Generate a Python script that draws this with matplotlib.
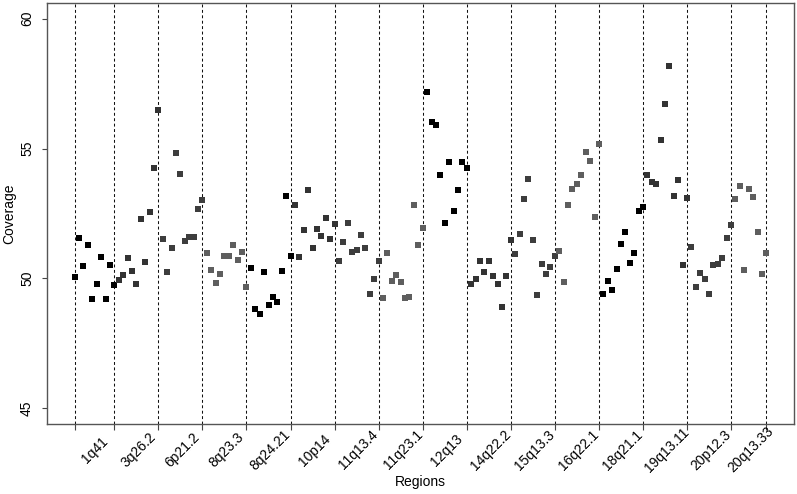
import matplotlib
matplotlib.use("Agg")
import matplotlib.pyplot as plt
import matplotlib.transforms as mtransforms
import numpy as np

plt.rcParams['font.family'] = ['Liberation Sans', 'DejaVu Sans']

regions = ["1q41", "3q26.2", "6p21.2", "8q23.3", "8q24.21", "10p14", "11q13.4",
           "11q23.1", "12q13", "14q22.2", "15q13.3", "16q22.1", "18q21.1",
           "19q13.11", "20p12.3", "20q13.33"]
region_sizes = [10, 10, 10, 10, 10, 10, 10, 10, 10, 10, 10, 10, 10, 10, 10, 8]
region_colors = ["#000000", "#333333", "#3d3d3d", "#5e5e5e",
                 "#000000", "#333333", "#3d3d3d", "#5e5e5e",
                 "#000000", "#333333", "#3d3d3d", "#5e5e5e",
                 "#000000", "#333333", "#3d3d3d", "#5e5e5e"]

coverage = [
    # 1q41
    50.05, 51.54, 50.48, 51.29, 49.22, 49.78, 50.83, 49.22, 50.52, 49.74,
    # 3q26.2
    49.95, 50.15, 50.77, 50.30, 49.77, 52.30, 50.65, 52.54, 54.24, 56.50,
    # 6p21.2
    51.52, 50.25, 51.17, 54.84, 54.02, 51.44, 51.59, 51.59, 52.69, 53.02,
    # 8q23.3
    50.97, 50.34, 49.83, 50.16, 50.85, 50.85, 51.30, 50.70, 51.02, 49.69,
    # 8q24.21
    50.42, 48.83, 48.64, 50.26, 48.99, 49.29, 49.08, 50.29, 53.17, 50.88,
    # 10p14
    52.83, 50.83, 51.87, 53.40, 51.17, 51.91, 51.62, 52.32, 51.53, 52.09,
    # 11q13.4
    50.69, 51.40, 52.15, 51.03, 51.11, 51.66, 51.16, 49.42, 49.98, 50.67,
    # 11q23.1
    49.23, 50.98, 49.91, 50.15, 49.85, 49.26, 49.29, 52.81, 51.29, 51.94,
    # 12q13
    57.19, 56.01, 55.91, 53.98, 52.15, 54.49, 52.60, 53.41, 54.47, 54.26,
    # 14q22.2
    49.77, 49.97, 50.67, 50.24, 50.67, 50.08, 49.77, 48.92, 50.08, 51.49,
    # 15q13.3
    50.94, 51.72, 53.05, 53.82, 51.49, 49.36, 50.57, 50.18, 50.46, 50.85,
    # 16q22.1
    51.07, 49.88, 52.81, 53.45, 53.63, 53.99, 54.86, 54.52, 52.35, 55.18,
    # 18q21.1
    49.39, 49.92, 49.56, 50.37, 51.34, 51.79, 50.61, 50.97, 52.58, 52.76,
    # 19q13.11
    53.99, 53.71, 53.63, 55.34, 56.73, 58.17, 53.19, 53.79, 50.51, 53.11,
    # 20p12.3
    51.21, 49.69, 50.21, 49.97, 49.41, 50.53, 50.54, 50.77, 51.54, 52.05,
    # 20q13.33
    53.04, 53.57, 50.33, 53.45, 53.13, 51.79, 50.19, 50.98,
]
y_ticks = [45, 50, 55, 60]

W, H = 797, 494
fig = plt.figure(figsize=(W / 100, H / 100), dpi=100)
ax = fig.add_axes([47 / W, 1 - 424 / H, (794 - 47) / W, (424 - 3) / H])

n = len(coverage)
xs = np.arange(1, n + 1)
ends = np.cumsum(region_sizes)
starts = np.concatenate([[0], ends[:-1]])
boundaries = np.concatenate([[1], ends])

for lab, s, e, c in zip(regions, starts, ends, region_colors):
    ax.plot(xs[s:e], coverage[s:e], linestyle='none', marker='s', ms=4.2,
            mew=0, color=c, zorder=3)

for b in boundaries:
    ax.axvline(b, color='#111111', lw=0.75, linestyle=(0, (2.8, 2.4)), zorder=1)

pad = 0.04 * (n - 1)
ax.set_xlim(1 - pad, n + pad)
ax.set_ylim(45 - 0.6, 60 + 0.6)

ax.set_xticks(boundaries)
ax.set_xticklabels([])
ax.set_yticks(y_ticks)
ax.set_yticklabels([str(t) for t in y_ticks], rotation=90, va='center')
ax.tick_params(axis='y', length=3.8, width=0.8, color='#444444', pad=5.5,
               labelsize=10, labelcolor='black')
ax.tick_params(axis='x', length=4.5, width=0.8, color='#444444')

for sp in ax.spines.values():
    sp.set_color('#555555')
    sp.set_linewidth(1.0)

trans = mtransforms.blended_transform_factory(ax.transData, ax.transAxes)
centers = (starts + 1 + ends) / 2.0
for lab, cx in zip(regions, centers):
    ax.text(cx, -26 / 421, lab, transform=trans, rotation=45, ha='center',
            va='center', rotation_mode='anchor', fontsize=10)

fig.text(420.5 / W, 1 - 482 / H, "Regions", ha='center', va='center', fontsize=10)
fig.text(9 / W, 1 - 213.5 / H, "Coverage", ha='center', va='center',
         rotation=90, fontsize=10)

fig.savefig("out.png", dpi=100)
